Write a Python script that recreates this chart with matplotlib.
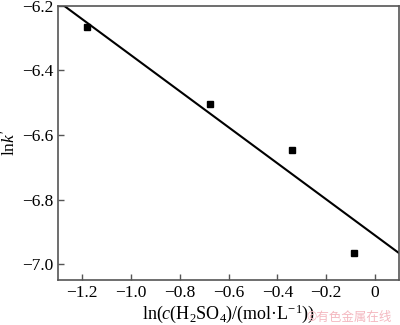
import numpy as np
import matplotlib
matplotlib.use('Agg')
import matplotlib.pyplot as plt

plt.rcParams['font.family'] = ['Liberation Serif', 'Noto Sans CJK SC']
plt.rcParams['mathtext.fontset'] = 'custom'
plt.rcParams['mathtext.rm'] = 'Liberation Serif'
plt.rcParams['mathtext.it'] = 'Liberation Serif:italic'

# measured points
ln_c = [-1.18, -0.676, -0.338, -0.087]
ln_k = [-6.267, -6.504, -6.647, -6.965]

# fitted line
slope = -0.557
intercept = -6.910

fig = plt.figure(figsize=(4, 3.25), dpi=100)
ax = fig.add_axes([0.145, 0.137, 0.853, 0.845])

xx = np.array([-1.35, 0.15])
ax.plot(xx, slope * xx + intercept, color='black', lw=1.5)
ax.plot(ln_c, ln_k, 's', color='black', ms=4.5)

ax.set_xlim(-1.3, 0.1)
ax.set_ylim(-7.05, -6.2)
ax.set_xticks([-1.2, -1.0, -0.8, -0.6, -0.4, -0.2, 0])
ax.set_xticklabels(['\u22121.2', '\u22121.0', '\u22120.8', '\u22120.6', '\u22120.4', '\u22120.2', '0'])
ax.set_yticks([-7.0, -6.8, -6.6, -6.4, -6.2])
ax.set_yticklabels(['\u22127.0', '\u22126.8', '\u22126.6', '\u22126.4', '\u22126.2'])
ax.tick_params(direction='in', labelsize=12.5, length=4, width=1, color='#555555')
for s in ax.spines.values():
    s.set_color('#555555')
    s.set_linewidth(1.2)

ax.set_ylabel("ln$k'$", fontsize=12.5, labelpad=2)
ax.set_xlabel(r"ln($c$(H$_2$SO$_4$)/(mol·L$^{-1}$))", fontsize=13, labelpad=1)

fig.text(0.765, 0.012, '©有色金属在线', color='#f4b8c0', fontsize=9,
         family=['Noto Sans CJK SC'])

fig.savefig('out.png', dpi=100)
